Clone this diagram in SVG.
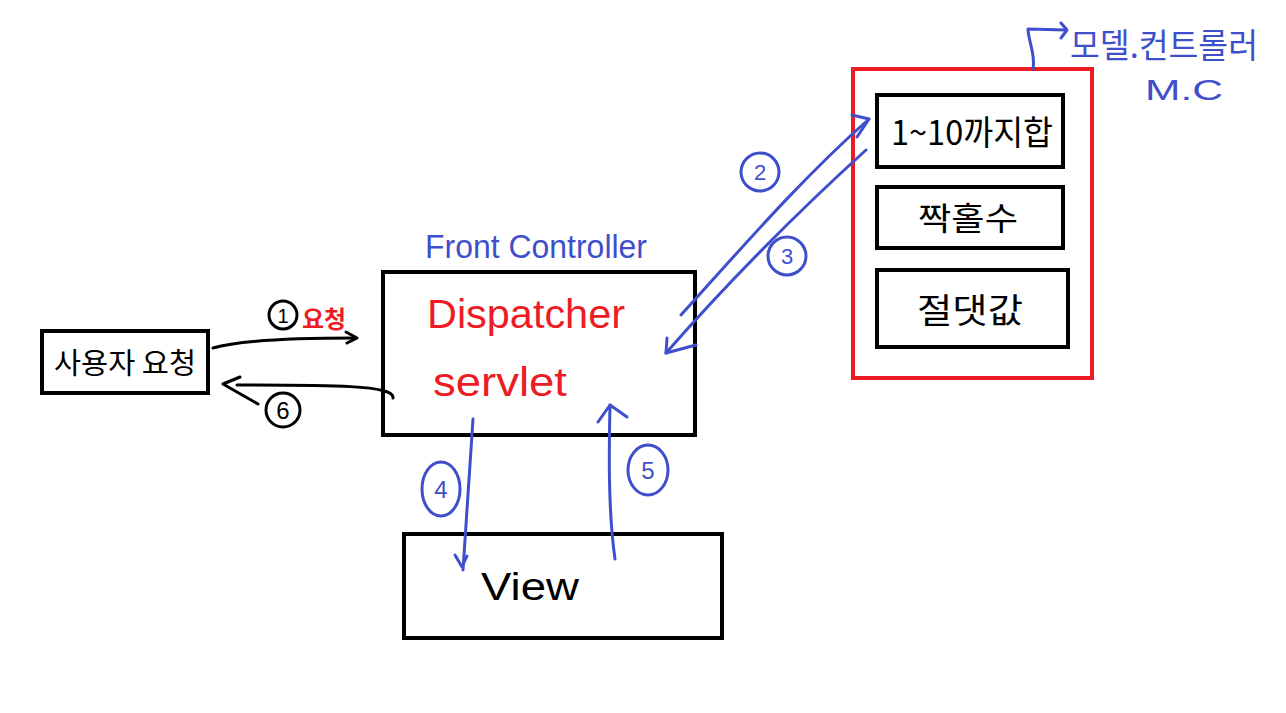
<svg xmlns="http://www.w3.org/2000/svg" width="1286" height="713" viewBox="0 0 1286 713">
<defs>
<style>
.box{fill:none;stroke:#000;stroke-width:4}
.redbox{fill:none;stroke:#ed1c24;stroke-width:4}
.bl{fill:none;stroke:#3f4fcb;stroke-width:3;stroke-linecap:round;stroke-linejoin:round}
.bk{fill:none;stroke:#000;stroke-width:3;stroke-linecap:round;stroke-linejoin:round}
.kr{font-family:"Noto Sans CJK KR","Noto Sans",sans-serif}
.en{font-family:"Liberation Sans","Noto Sans",sans-serif}
.blt{fill:#3f4fcb}
.rdt{fill:#ed1c24}
.bkt{fill:#000}
</style>
</defs>
<rect width="1286" height="713" fill="#fff"/>

<g id="user-request">
<rect class="box" x="42" y="331" width="166" height="62"/>
<text class="kr bkt" x="125" y="374" font-size="29" text-anchor="middle" textLength="142" lengthAdjust="spacingAndGlyphs">사용자 요청</text>
</g>

<g id="dispatcher">
<rect class="box" x="383" y="272" width="312" height="163"/>
<text class="en blt" x="425" y="258" font-size="34" textLength="222" lengthAdjust="spacingAndGlyphs">Front Controller</text>
<text class="en rdt" x="427" y="328" font-size="40" textLength="198" lengthAdjust="spacingAndGlyphs">Dispatcher</text>
<text class="en rdt" x="433" y="396" font-size="40" textLength="134" lengthAdjust="spacingAndGlyphs">servlet</text>
</g>

<g id="view">
<rect class="box" x="404" y="534" width="318" height="104"/>
<text class="en bkt" x="481" y="600" font-size="38" textLength="98" lengthAdjust="spacingAndGlyphs">View</text>
</g>

<g id="model-controller">
<rect class="redbox" x="853" y="69" width="239" height="309"/>
<text class="kr blt" x="1070" y="58" font-size="34" textLength="188" lengthAdjust="spacingAndGlyphs">모델.컨트롤러</text>
<text class="en blt" x="1145" y="100" font-size="30" textLength="78" lengthAdjust="spacingAndGlyphs">M.C</text>
</g>

<g id="sum">
<rect class="box" x="877" y="95" width="186" height="72"/>
<text class="kr bkt" x="891" y="145" font-size="34" textLength="162" lengthAdjust="spacingAndGlyphs">1~10까지합</text>
</g>

<g id="even-odd">
<rect class="box" x="877" y="187" width="186" height="61"/>
<text class="kr bkt" x="968" y="230" font-size="32" text-anchor="middle" textLength="100" lengthAdjust="spacingAndGlyphs">짝홀수</text>
</g>

<g id="abs">
<rect class="box" x="877" y="270" width="191" height="77"/>
<text class="kr bkt" x="970" y="323" font-size="34" text-anchor="middle" textLength="106" lengthAdjust="spacingAndGlyphs">절댓값</text>
</g>

<g id="connectors">
<path class="bk" d="M213,348 C240,340 300,338 355,338"/>
<path class="bk" d="M346,332 L357,338 L347,343"/>
<circle class="bk" cx="283" cy="315" r="14"/>
<text class="en bkt" x="283" y="323" font-size="20" text-anchor="middle">1</text>
<text class="kr rdt" x="302" y="328" font-size="24" font-weight="bold" textLength="44" lengthAdjust="spacingAndGlyphs">요청</text>
<path class="bk" d="M393,398 C395,385 330,385 237,385"/>
<path class="bk" d="M240,377 L223,384 L258,404"/>
<circle class="bk" cx="283" cy="410" r="17"/>
<text class="en bkt" x="283" y="419" font-size="24" text-anchor="middle">6</text>
<path class="bl" d="M681,315 C740,250 800,180 869,119"/>
<path class="bl" d="M852,115 L869,119 L857,137"/>
<circle class="bl" cx="760" cy="172" r="19"/>
<text class="en blt" x="760" y="180" font-size="22" text-anchor="middle">2</text>
<path class="bl" d="M866,150 C800,210 730,280 666,353"/>
<path class="bl" d="M667,338 L666,353 L696,345"/>
<circle class="bl" cx="787" cy="256" r="19"/>
<text class="en blt" x="787" y="264" font-size="22" text-anchor="middle">3</text>
<path class="bl" d="M473,419 C470,470 466,520 463,570"/>
<path class="bl" d="M455,555 L462,567 L467,556"/>
<ellipse class="bl" cx="441" cy="489" rx="19" ry="27"/>
<text class="en blt" x="441" y="498" font-size="24" text-anchor="middle">4</text>
<path class="bl" d="M615,559 C608,510 609,450 610,405"/>
<path class="bl" d="M598,422 L610,405 L627,417"/>
<ellipse class="bl" cx="648" cy="470" rx="20" ry="25"/>
<text class="en blt" x="648" y="479" font-size="24" text-anchor="middle">5</text>
<path class="bl" d="M1033,69 C1036,55 1028,40 1028,29 L1066,30"/>
<path class="bl" d="M1061,23 L1067,30 L1061,38"/>
</g>
</svg>
